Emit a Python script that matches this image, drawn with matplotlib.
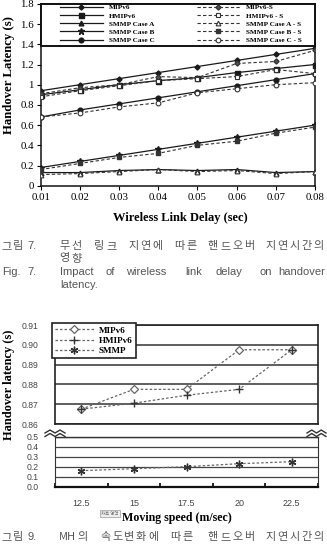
import matplotlib
matplotlib.use("Agg")
import matplotlib.pyplot as plt
from matplotlib.lines import Line2D
from matplotlib.patches import Rectangle

# ---------------- Fig. 7 data ----------------
link_delay = [0.01, 0.02, 0.03, 0.04, 0.05, 0.06, 0.07, 0.08]
mipv6      = [0.94, 1.00, 1.06, 1.12, 1.18, 1.24, 1.30, 1.36]
mipv6_s    = [0.91, 0.97, 1.00, 1.08, 1.07, 1.21, 1.23, 1.34]
hmipv6     = [0.90, 0.95, 1.00, 1.04, 1.07, 1.12, 1.16, 1.20]
hmipv6_s   = [0.88, 0.94, 0.99, 1.04, 1.06, 1.08, 1.15, 1.11]
smmp_a     = [0.13, 0.13, 0.15, 0.16, 0.15, 0.16, 0.13, 0.14]
smmp_a_s   = [0.11, 0.12, 0.14, 0.16, 0.14, 0.15, 0.12, 0.14]
smmp_b     = [0.18, 0.24, 0.30, 0.36, 0.42, 0.48, 0.54, 0.60]
smmp_b_s   = [0.16, 0.22, 0.28, 0.32, 0.40, 0.44, 0.52, 0.58]
smmp_c     = [0.68, 0.75, 0.81, 0.87, 0.93, 0.99, 1.05, 1.11]
smmp_c_s   = [0.68, 0.72, 0.78, 0.82, 0.92, 0.96, 1.00, 1.02]
fig7_yticks = [0, 0.2, 0.4, 0.6, 0.8, 1.0, 1.2, 1.4, 1.6, 1.8]
fig7_ytick_labels = ["0", "0.2", "0.4", "0.6", "0.8", "1", "1.2", "1.4", "1.6", "1.8"]
fig7_xtick_labels = ["0.01", "0.02", "0.03", "0.04", "0.05", "0.06", "0.07", "0.08"]

# ---------------- Fig. 9 data ----------------
speed_labels  = ["12.5", "15", "17.5", "20", "22.5"]
mipv6_speed   = [0.8675, 0.8775, 0.8775, 0.8975, 0.8975]
hmipv6_speed  = [0.8675, 0.8705, 0.8745, 0.8775, 0.8975]
smmp_speed    = [0.16, 0.18, 0.20, 0.23, 0.25]
upper_ticks   = [0.86, 0.87, 0.88, 0.89, 0.90, 0.91]
lower_ticks   = [0.0, 0.1, 0.2, 0.3, 0.4, 0.5]

W, H, DPI = 327, 558, 100
fig = plt.figure(figsize=(W / DPI, H / DPI), dpi=DPI)
fig.patch.set_facecolor("white")

def fx(x):
    return x / W

def fy(y):
    return 1 - y / H

SERIF = "Liberation Serif"
SANS = "Liberation Sans"
KR = ["Noto Sans CJK KR", "DejaVu Sans"]
CAP = "#555555"

# ================= Fig. 7 =================
ax1 = fig.add_axes([fx(40.7), fy(185.7), fx(315) - fx(40.7), (185.7 - 3.9) / H])
ax1.set_xlim(0.01, 0.08)
ax1.set_ylim(0, 1.8)

solid = dict(color="#1a1a1a", lw=0.9, ls="-")
dash = dict(color="#333333", lw=0.8, ls=(0, (3, 2)))
series = [
    ("MIPv6", mipv6, solid, dict(marker="D", ms=2.6, mfc="#1a1a1a", mec="#1a1a1a")),
    ("HMIPv6", hmipv6, solid, dict(marker="s", ms=3.6, mfc="#1a1a1a", mec="#1a1a1a")),
    ("SMMP Case A", smmp_a, solid, dict(marker="^", ms=3.4, mfc="#1a1a1a", mec="#1a1a1a")),
    ("SMMP Case B", smmp_b, solid, dict(marker="*", ms=4.5, mfc="#1a1a1a", mec="#1a1a1a")),
    ("SMMP Case C", smmp_c, solid, dict(marker="o", ms=3.4, mfc="#1a1a1a", mec="#1a1a1a")),
    ("MIPv6-S", mipv6_s, dash, dict(marker="D", ms=2.6, mfc="#555555", mec="#333333")),
    ("HMIPv6 - S", hmipv6_s, dash, dict(marker="s", ms=3.4, mfc="white", mec="#333333", mew=0.8)),
    ("SMMP Case A - S", smmp_a_s, dash, dict(marker="^", ms=3.4, mfc="white", mec="#333333", mew=0.8)),
    ("SMMP Case B - S", smmp_b_s, dash, dict(marker="s", ms=2.6, mfc="#333333", mec="#333333")),
    ("SMMP Case C - S", smmp_c_s, dash, dict(marker="o", ms=3.4, mfc="white", mec="#333333", mew=0.8)),
]
for label, vals, ls, mk in series:
    ax1.plot(link_delay, vals, **ls, **mk, zorder=3)

ax1.set_xticks(link_delay)
ax1.set_xticklabels(fig7_xtick_labels, fontfamily=SERIF, fontsize=7.8)
ax1.set_yticks(fig7_yticks)
ax1.set_yticklabels(fig7_ytick_labels, fontfamily=SERIF, fontsize=7.8)
ax1.tick_params(direction="out", length=3, width=0.8, pad=2)
for s in ax1.spines.values():
    s.set_linewidth(1.1)
    s.set_color("#111111")

# legend box
ax1.add_patch(Rectangle((0, 1.386 / 1.8), 1, 1 - 1.386 / 1.8, transform=ax1.transAxes,
                        facecolor="white", edgecolor="#111111", lw=1.4, zorder=5,
                        clip_on=False))
handles = [Line2D([], [], **ls, **mk) for _, _, ls, mk in series]
labels = [s[0] for s in series]
leg_kw = dict(loc="upper left", frameon=False, borderpad=0, borderaxespad=0,
              handlelength=5.9, handletextpad=0.85, labelspacing=0.3, numpoints=1,
              prop=dict(family=SERIF, weight="bold", size=5.2))
lg1 = ax1.legend(handles[:5], labels[:5], bbox_to_anchor=((60 - 40.7) / 274.3, 0.998), **leg_kw)
lg1.set_zorder(6)
ax1.add_artist(lg1)
lg2 = ax1.legend(handles[5:], labels[5:], bbox_to_anchor=((197 - 40.7) / 274.3, 0.998), **leg_kw)
lg2.set_zorder(6)

fig.text(fx(180), fy(218), "Wireless Link Delay (sec)", ha="center", va="center",
         fontfamily=SERIF, fontweight="bold", fontsize=9)
fig.text(fx(9), fy(75), "Handover Latency (s)", ha="center", va="center", rotation=90,
         fontfamily=SERIF, fontweight="bold", fontsize=9.2)

# captions
def spaced(words, y, pitch=12.0, size=8.0):
    for word, x0 in words:
        for i, ch in enumerate(word):
            fig.text(fx(x0 + i * pitch), fy(y), ch, ha="left", va="center",
                     fontfamily=KR, fontsize=size, color=CAP)

def plain(words, y, family=SANS, size=8.0):
    for word, x0, ha in words:
        fig.text(fx(x0), fy(y), word, ha=ha, va="center", fontfamily=family,
                 fontsize=size, color=CAP)

spaced([("그림", 1)], 246)
plain([("7.", 27, "left")], 246)
spaced([("무선", 59), ("링크", 94), ("지연에", 128), ("따른", 174), ("핸드오버", 208),
        ("지연시간의", 265)], 246)
spaced([("영향", 59)], 258.5)
plain([("Fig.", 2, "left"), ("7.", 27, "left"), ("Impact", 60, "left"), ("of", 105, "left"),
       ("wireless", 126, "left"), ("link", 185, "left"), ("delay", 215, "left"),
       ("on", 260, "left"), ("handover", 325, "right")], 272)
plain([("latency.", 60, "left")], 285)

# ================= Fig. 9 =================
x_idx = list(range(len(speed_labels)))
axU = fig.add_axes([fx(55), fy(424), fx(318) - fx(55), (424 - 325) / H])
axL = fig.add_axes([fx(55), fy(486.7), fx(318) - fx(55), (486.7 - 436.7) / H])

dash9 = dict(color="#666666", lw=0.9, ls=(0, (2, 1.6)))
m_mip = dict(marker="D", ms=3.8, mfc="white", mec="#666666", mew=0.9)
m_hmip = dict(marker="+", ms=6, mec="#333333", mew=1.0)
m_smmp = dict(marker=(6, 2, 0), ms=5.5, mec="#333333", mew=1.0)

axU.plot(x_idx, mipv6_speed, **dash9, **m_mip, zorder=3)
axU.plot(x_idx, hmipv6_speed, **dash9, **m_hmip, zorder=4)
axL.plot(x_idx, smmp_speed, **dash9, **m_smmp, zorder=3)

for ax in (axU, axL):
    ax.set_xlim(-0.5, len(speed_labels) - 0.5)

axU.set_ylim(0.86, 0.91)
axU.set_yticks(upper_ticks)
axU.set_yticklabels([f"{v:.2f}" for v in upper_ticks], fontfamily=SANS, fontsize=6.2, color="#444444")
axU.set_xticks([])
axU.grid(axis="y", color="#333333", lw=1.1)
axU.tick_params(axis="y", length=0, pad=12)
for s in axU.spines.values():
    s.set_linewidth(1.2)
    s.set_color("#222222")

axL.set_ylim(0, 0.5)
axL.set_yticks(lower_ticks)
axL.set_yticklabels([f"{v:.1f}" for v in lower_ticks], fontfamily=SANS, fontsize=6.2, color="#444444")
axL.grid(axis="y", color="#444444", lw=0.9)
axL.tick_params(axis="y", length=0, pad=12)
axL.set_xticks(x_idx)
axL.set_xticklabels(speed_labels, fontfamily=SANS, fontsize=6.5, color="#444444")
axL.set_xticks([i - 0.5 for i in range(len(speed_labels) + 1)], minor=True)
axL.tick_params(axis="x", which="major", length=0, pad=9)
axL.tick_params(axis="x", which="minor", direction="in", length=3, width=1.2)
for k, s in axL.spines.items():
    s.set_color("#333333")
    s.set_linewidth(0.8)
axL.spines["bottom"].set_linewidth(1.6)
axL.spines["bottom"].set_color("#111111")
axL.spines["top"].set_linewidth(1.0)

leg9 = axU.legend([Line2D([], [], **dash9, **m_mip), Line2D([], [], **dash9, **m_hmip),
                   Line2D([], [], **dash9, **m_smmp)],
                  ["MIPv6", "HMIPv6", "SMMP"], loc="upper left",
                  bbox_to_anchor=(fx(52), fy(323)), bbox_transform=fig.transFigure,
                  borderaxespad=0, borderpad=0.35, handlelength=4.2, handletextpad=0.55,
                  labelspacing=0.2, numpoints=1, fancybox=False, framealpha=1,
                  edgecolor="#222222",
                  prop=dict(family=SERIF, weight="bold", size=6.6))
leg9.get_frame().set_linewidth(1.2)

# axis break marks
for x0, x1 in ((45, 65), (307, 326)):
    for dy in (0, 3.5):
        xs = [x0 + (x1 - x0) * t / 4 for t in range(5)]
        ys = [433 + dy - (3 if t % 2 else 0) for t in range(5)]
        fig.add_artist(Line2D([fx(v) for v in xs], [fy(v) for v in ys],
                              transform=fig.transFigure, color="#333333", lw=1.0))

fig.text(fx(9), fy(385), "Handover latency (s)", ha="center", va="center", rotation=90,
         fontfamily=SERIF, fontweight="bold", fontsize=9)
fig.text(fx(177), fy(518), "Moving speed (m/sec)", ha="center", va="center",
         fontfamily=SERIF, fontweight="bold", fontsize=8.6)
fig.text(fx(110), fy(513.5), "차트 영역", ha="center", va="center", fontfamily=KR,
         fontsize=3.2, color="#666666",
         bbox=dict(boxstyle="square,pad=0.25", fc="#eeeeee", ec="#999999", lw=0.5))

spaced([("그림", 1)], 537)
plain([("9.", 27, "left")], 537)
plain([("MH", 59, "left")], 537, family=KR, size=8.0)
spaced([("의", 77), ("속도변화에", 100), ("따른", 170), ("핸드오버", 208), ("지연시간의", 265)], 537)

fig.savefig("out.png", dpi=DPI, facecolor="white")
